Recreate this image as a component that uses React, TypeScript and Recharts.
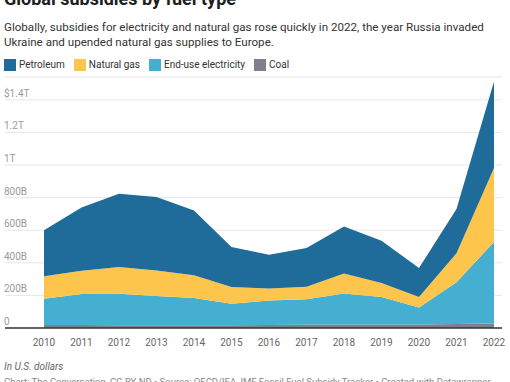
import React from 'react';
import { AreaChart, Area, XAxis, YAxis, CartesianGrid } from 'recharts';

const years = ['2010', '2011', '2012', '2013', '2014', '2015', '2016', '2017', '2018', '2019', '2020', '2021', '2022'];
const coal = [18, 18, 17, 17, 17, 17, 18, 20, 22, 22, 22, 24, 28];
const electricity = [162, 191, 193, 179, 167, 132, 151, 156, 190, 168, 104, 256, 500];
const naturalGas = [137, 143, 164, 157, 139, 103, 74, 77, 123, 86, 64, 178, 454];
const petroleum = [283, 388, 450, 451, 398, 245, 207, 238, 288, 260, 178, 272, 531];

const yTicks = [0, 200, 400, 600, 800, 1000, 1200, 1400];
const yTickLabels = ['0', '200B', '400B', '600B', '800B', '1T', '1.2T', '$1.4T'];

const series = [
  { key: 'petroleum', name: 'Petroleum', color: '#1f6b9a' },
  { key: 'naturalGas', name: 'Natural gas', color: '#fdc54b' },
  { key: 'electricity', name: 'End-use electricity', color: '#45afd1' },
  { key: 'coal', name: 'Coal', color: '#80808d' },
];

const data = years.map((year, i) => ({
  year,
  coal: coal[i],
  electricity: electricity[i],
  naturalGas: naturalGas[i],
  petroleum: petroleum[i],
}));

const font = 'Roboto, "Noto Sans", sans-serif';

const YTick = (props: any) => {
  const { y, payload } = props;
  const idx = yTicks.indexOf(payload.value);
  return (
    <text x={4} y={y - 3} fill="#9a9a9a" fontSize={10} fontFamily={font}>
      {yTickLabels[idx]}
    </text>
  );
};

export default function App() {
  // stack from bottom: coal, electricity, gas, petroleum
  const stackOrder = [...series].reverse();
  return (
    <div style={{ position: 'absolute', left: 0, top: 0, width: 510, height: 382, overflow: 'hidden', background: '#fff', fontFamily: font }}>
      <div style={{ position: 'absolute', left: 4, top: -12, fontSize: 18, fontWeight: 700, color: '#1d1d1d', whiteSpace: 'nowrap' }}>
        Global subsidies by fuel type
      </div>
      <div style={{ position: 'absolute', left: 4, top: 20, width: 500, fontSize: 11.6, lineHeight: '15px', color: '#333' }}>
        Globally, subsidies for electricity and natural gas rose quickly in 2022, the year Russia invaded Ukraine and upended natural gas supplies to Europe.
      </div>
      <div style={{ position: 'absolute', left: 4, top: 59, display: 'flex', fontSize: 10, lineHeight: '12px', color: '#333', whiteSpace: 'nowrap' }}>
        {series.map((s) => (
          <div key={s.key} style={{ display: 'flex', alignItems: 'center', marginRight: 9 }}>
            <span style={{ display: 'inline-block', width: 12, height: 12, background: s.color, marginRight: 3 }} />
            <span>{s.name}</span>
          </div>
        ))}
      </div>
      <div style={{ position: 'absolute', left: 0, top: 0 }}>
        <AreaChart width={510} height={382} data={data} margin={{ top: 77, right: 8, left: 4, bottom: 24 }}>
          <CartesianGrid vertical={false} stroke="#e6e6e6" />
          <XAxis
            dataKey="year"
            padding={{ left: 39, right: 8 }}
            axisLine={{ stroke: '#333', strokeWidth: 1.5 }}
            tickLine={false}
            tickSize={9}
            height={30}
            interval={0}
            tick={{ fill: '#666', fontSize: 10, fontFamily: font }}
          />
          <YAxis
            width={1}
            domain={[0, 1540]}
            ticks={yTicks}
            interval={0}
            axisLine={false}
            tickLine={false}
            tick={<YTick />}
          />
          {stackOrder.map((s) => (
            <Area
              key={s.key}
              type="linear"
              dataKey={s.key}
              name={s.name}
              stackId="1"
              stroke="none"
              fill={s.color}
              fillOpacity={1}
              isAnimationActive={false}
            />
          ))}
        </AreaChart>
      </div>
      <div style={{ position: 'absolute', left: 4, top: 361, fontSize: 10, fontStyle: 'italic', color: '#666' }}>
        In U.S. dollars
      </div>
      <div style={{ position: 'absolute', left: 4, top: 376, fontSize: 9.5, color: '#888', whiteSpace: 'nowrap' }}>
        Chart: The Conversation, CC-BY-ND • Source: OECD/IEA, IMF Fossil Fuel Subsidy Tracker • Created with Datawrapper
      </div>
    </div>
  );
}
